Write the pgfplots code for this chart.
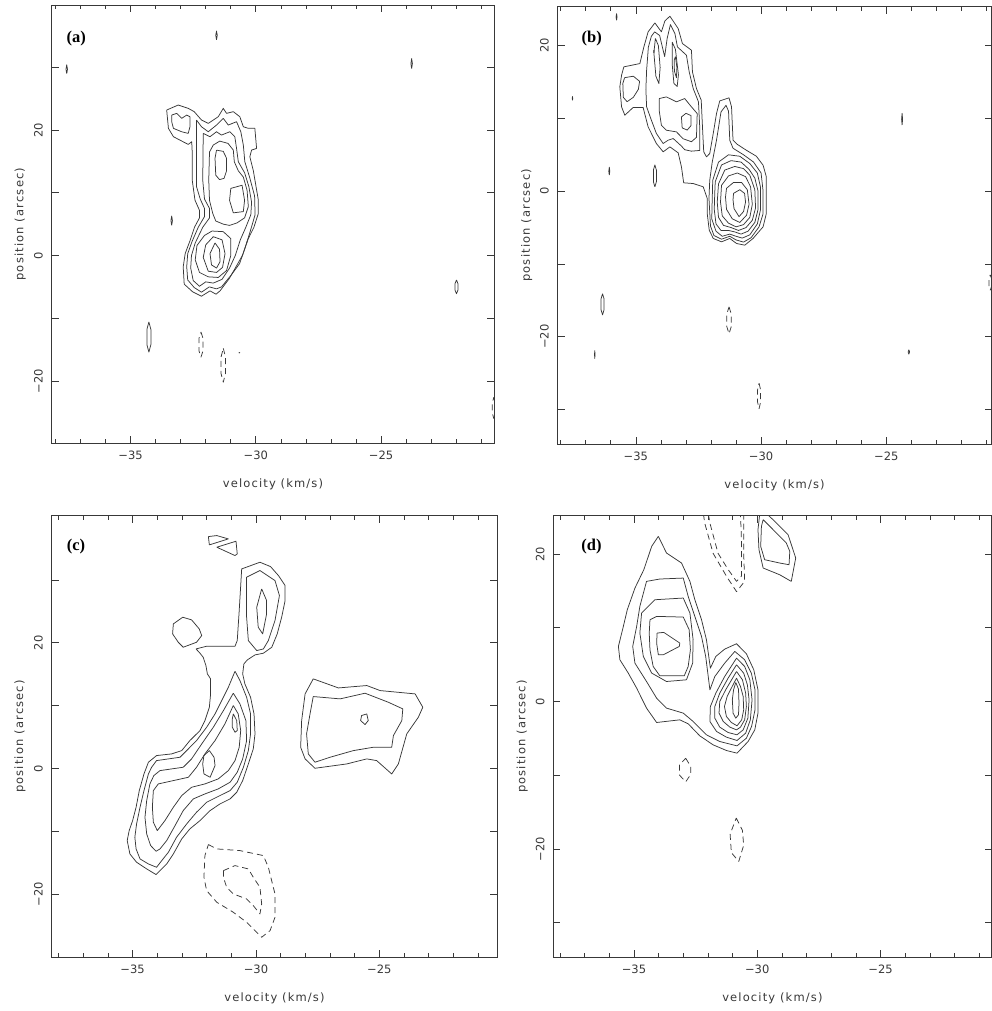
\documentclass[border=0pt]{standalone}
\usepackage{pgfplots}
\pgfplotsset{compat=1.18}
\usepackage{fontspec}
\setmainfont{Liberation Serif}
\newfontfamily\pgsans{DejaVu Sans}
\newfontfamily\pglab[LetterSpace=10]{DejaVu Sans}
\definecolor{ink}{gray}{0.22}
\newcommand\tickf{\pgsans\fontsize{11.5}{13}\selectfont}
\newcommand\labf{\pglab\fontsize{11.5}{13}\selectfont}
\newcommand\panf{\rmfamily\bfseries\fontsize{16.5}{18}\selectfont}
\tikzset{ct/.style={ink, line width=0.75pt, line join=round},
         dct/.style={ct, dash pattern=on 6pt off 4pt}}
\pgfplotsset{
 pgp/.style={
  scale only axis, anchor=south west, clip=true,
  axis line style={ink, line width=0.7pt},
  tick style={ink, line width=0.7pt},
  major tick length=7pt, minor tick length=4pt,
  tick align=inside, tick pos=both,
  xtick={-35,-30,-25}, xticklabels={−35,−30,−25},
  minor xtick={-38,-37,-36,-34,-33,-32,-31,-29,-28,-27,-26,-24,-23,-22,-21},
  xticklabel style={font=\tickf, text=ink, anchor=base, yshift=-16.7pt},
  yticklabel style={font=\tickf, text=ink, xshift=-9pt, rotate=90, anchor=base},
  xlabel={velocity (km/s)}, ylabel={position (arcsec)},
  xlabel style={font=\labf, text=ink, at={(axis description cs:0.5,-0.101)}, anchor=base},
  ylabel style={font=\labf, text=ink, at={(axis description cs:-0.064,0.5)}, anchor=base},
 },
 pgac/.style={ytick={-20,-10,0,10,20,30}, yticklabels={−20,{},0,{},20,{}}},
 pgbd/.style={ytick={-30,-20,-10,0,10,20}, yticklabels={{},−20,{},0,{},20}},
}
\begin{document}
\begin{tikzpicture}
\useasboundingbox (0pt,0pt) rectangle (992pt,1011pt);
% ---------------- (a)
\begin{axis}[pgp, pgac, at={(51.7pt,567.7pt)}, width=442.6pt, height=438.3pt,
  xmin=-38.15, xmax=-20.48, ymin=-29.94, ymax=39.94]
\addplot[ct] coordinates {(-33.56,23.19)(-33.10,23.99)(-32.70,23.46)(-32.46,22.93)(-32.17,21.60)(-31.90,21.06)(-31.50,22.13)(-31.30,23.46)(-31.17,22.66)(-30.90,22.93)(-30.64,22.13)(-30.50,20.53)(-30.30,20.27)(-30.04,20.27)(-29.97,17.07)(-30.17,16.81)(-30.24,15.74)(-30.10,13.51)(-29.90,8.83)(-29.90,6.70)(-30.08,4.47)(-30.30,2.71)(-30.53,0.05)(-30.83,-2.07)(-31.06,-3.67)(-31.43,-5.64)(-31.59,-6.17)(-31.83,-5.64)(-32.17,-6.49)(-32.52,-5.80)(-32.86,-4.57)(-32.90,-1.81)(-32.82,0.32)(-32.63,2.34)(-32.45,4.50)(-32.25,6.00)(-32.25,7.20)(-32.43,8.83)(-32.54,12.02)(-32.54,16.50)(-32.56,18.14)(-32.70,17.71)(-33.29,18.94)(-33.49,20.27)(-33.56,23.19)};
\addplot[ct] coordinates {(-33.36,22.39)(-33.16,22.66)(-32.96,21.86)(-32.76,22.39)(-32.63,22.13)(-32.63,20.53)(-32.70,19.47)(-32.96,19.73)(-33.29,20.27)(-33.36,21.33)(-33.36,22.39)};
\addplot[ct] coordinates {(-32.37,21.60)(-32.17,20.53)(-31.90,19.73)(-31.57,20.80)(-31.30,21.86)(-31.10,20.80)(-30.77,21.33)(-30.60,19.73)(-30.50,17.61)(-30.44,14.95)(-30.25,12.50)(-30.05,9.50)(-30.03,6.50)(-30.25,3.50)(-30.45,1.00)(-30.65,-1.30)(-31.00,-3.20)(-31.37,-5.00)(-31.57,-5.32)(-31.86,-5.00)(-32.17,-5.85)(-32.46,-5.11)(-32.72,-3.90)(-32.76,-1.80)(-32.72,0.30)(-32.55,2.20)(-32.30,4.50)(-32.05,6.20)(-32.05,7.50)(-32.22,9.00)(-32.37,11.00)(-32.37,15.20)(-32.37,21.60)};
\addplot[ct] coordinates {(-32.10,19.47)(-31.83,18.94)(-31.57,19.73)(-31.37,19.20)(-31.04,19.73)(-30.84,18.94)(-30.77,17.07)(-30.70,14.95)(-30.45,13.20)(-30.28,11.00)(-30.17,8.50)(-30.20,6.50)(-30.40,4.50)(-30.62,2.50)(-30.82,0.00)(-31.05,-2.00)(-31.35,-3.80)(-31.70,-4.40)(-32.00,-4.20)(-32.25,-4.90)(-32.50,-4.00)(-32.60,-2.00)(-32.57,0.00)(-32.42,2.00)(-32.12,4.50)(-31.85,6.00)(-31.85,7.50)(-32.05,9.00)(-32.12,12.00)(-32.10,19.47)};
\addplot[ct] coordinates {(-31.85,16.50)(-31.70,17.61)(-31.44,18.24)(-31.11,17.87)(-30.90,16.81)(-30.86,14.95)(-30.70,13.50)(-30.50,12.50)(-30.35,10.40)(-30.30,7.80)(-30.45,6.00)(-30.75,5.20)(-31.05,4.80)(-31.30,5.00)(-31.60,5.50)(-31.72,6.70)(-31.85,8.80)(-31.88,12.00)(-31.85,16.50)};
\addplot[ct] coordinates {(-31.57,16.80)(-31.30,16.60)(-31.17,15.50)(-31.17,13.50)(-31.27,12.30)(-31.45,12.10)(-31.60,12.80)(-31.63,15.50)(-31.57,16.80)};
\addplot[ct] coordinates {(-31.00,10.70)(-30.55,11.20)(-30.45,8.80)(-30.50,7.00)(-30.90,6.80)(-31.05,8.80)(-31.00,10.70)};
\addplot[ct] coordinates {(-32.05,3.20)(-31.75,3.90)(-31.30,3.80)(-31.00,2.70)(-31.00,0.00)(-31.17,-2.40)(-31.50,-3.50)(-31.90,-3.40)(-32.25,-2.70)(-32.42,-0.70)(-32.35,1.60)(-32.05,3.20)};
\addplot[ct] coordinates {(-31.70,3.00)(-31.35,2.50)(-31.23,0.30)(-31.33,-1.90)(-31.57,-2.70)(-31.90,-2.50)(-32.10,-0.30)(-32.00,1.70)(-31.70,3.00)};
\addplot[ct] coordinates {(-31.63,2.00)(-31.45,1.00)(-31.43,-1.00)(-31.57,-2.00)(-31.77,-1.50)(-31.83,0.30)(-31.63,2.00)};
\addplot[ct] coordinates {(-31.57,34.4)(-31.54,35.1)(-31.57,35.8)(-31.60,35.1)(-31.57,34.4)};
\addplot[ct] coordinates {(-37.55,29.0)(-37.52,29.7)(-37.55,30.4)(-37.58,29.7)(-37.55,29.0)};
\addplot[ct] coordinates {(-23.78,29.8)(-23.75,30.6)(-23.78,31.4)(-23.81,30.6)(-23.78,29.8)};
\addplot[ct] coordinates {(-33.36,4.8)(-33.33,5.55)(-33.36,6.3)(-33.39,5.55)(-33.36,4.8)};
\addplot[ct] coordinates {(-34.27,-10.6)(-34.19,-11.8)(-34.19,-14.2)(-34.27,-15.4)(-34.35,-14.2)(-34.35,-11.8)(-34.27,-10.6)};
\addplot[ct] coordinates {(-21.99,-3.9)(-21.93,-4.5)(-21.93,-5.5)(-21.99,-6.1)(-22.05,-5.5)(-22.05,-4.5)(-21.99,-3.9)};
\addplot[ct] coordinates {(-30.68,-15.45)(-30.64,-15.5)(-30.68,-15.55)};
\addplot[dct] coordinates {(-32.19,-12.2)(-32.11,-13.2)(-32.11,-15.2)(-32.19,-16.2)(-32.27,-15.2)(-32.27,-13.2)(-32.19,-12.2)};
\addplot[dct] coordinates {(-31.30,-14.8)(-31.21,-16.2)(-31.21,-18.8)(-31.30,-20.2)(-31.39,-18.8)(-31.39,-16.2)(-31.30,-14.8)};
\addplot[dct] coordinates {(-20.50,-22.6)(-20.44,-23.5)(-20.44,-25.1)(-20.50,-26.0)(-20.56,-25.1)(-20.56,-23.5)(-20.50,-22.6)};
\node[anchor=base west, font=\panf] at (axis description cs:0.026,0.914) {(a)};
\end{axis}
% ---------------- (b)
\begin{axis}[pgp, pgbd, at={(557.7pt,567pt)}, width=433.8pt, height=437.3pt,
  xmin=-38.12, xmax=-20.8, ymin=-34.75, ymax=25.36]
\addplot[ct] coordinates {(-35.48,17.09)(-34.84,17.54)(-34.68,19.83)(-34.51,21.90)(-34.24,23.13)(-33.98,21.90)(-33.84,23.41)(-33.64,24.05)(-33.31,22.35)(-33.14,20.29)(-32.78,19.38)(-32.74,16.40)(-32.58,14.11)(-32.39,12.51)(-32.34,8.84)(-32.29,5.41)(-32.18,4.72)(-32.05,5.18)(-31.91,7.93)(-31.78,10.67)(-31.65,12.41)(-31.28,12.83)(-31.18,11.59)(-31.12,7.01)(-30.96,6.46)(-30.59,5.63)(-30.19,4.81)(-29.92,3.57)(-29.79,1.97)(-29.79,-3.07)(-29.92,-4.90)(-30.32,-6.50)(-30.65,-7.42)(-30.98,-7.19)(-31.25,-6.50)(-31.58,-6.96)(-31.91,-6.50)(-32.07,-5.36)(-32.15,-3.07)(-32.15,-1.00)(-32.31,0.60)(-32.71,1.05)(-33.09,1.15)(-33.18,3.34)(-33.31,5.27)(-33.64,6.09)(-33.91,5.41)(-34.18,6.55)(-34.51,8.84)(-34.71,11.50)(-35.11,11.50)(-35.44,10.44)(-35.57,11.59)(-35.64,14.34)(-35.57,15.94)(-35.48,17.09)};
\addplot[ct] coordinates {(-34.57,16.63)(-34.50,19.80)(-34.38,21.30)(-34.25,21.90)(-34.05,21.40)(-33.92,19.50)(-33.85,18.50)(-33.75,21.00)(-33.62,22.90)(-33.44,21.67)(-33.34,19.83)(-32.98,18.69)(-32.87,16.40)(-32.71,14.11)(-32.50,12.28)(-32.45,8.84)(-32.45,5.60)(-32.78,5.50)(-33.05,5.70)(-33.18,6.20)(-33.51,7.24)(-33.71,7.01)(-33.91,6.55)(-34.18,7.93)(-34.38,9.76)(-34.57,11.59)(-34.60,14.00)(-34.57,16.63)};
\addplot[ct] coordinates {(-35.45,15.6)(-35.10,15.8)(-34.85,15.1)(-34.90,14.0)(-35.10,12.9)(-35.35,12.3)(-35.50,12.9)(-35.52,14.8)(-35.45,15.6)};
\addplot[ct] coordinates {(-34.07,12.73)(-33.78,12.96)(-33.38,12.28)(-33.05,12.73)(-32.78,11.59)(-32.55,10.67)(-32.58,7.40)(-32.78,6.80)(-33.11,7.20)(-33.38,8.15)(-33.78,8.38)(-33.98,9.07)(-34.07,11.13)(-34.07,12.73)};
\addplot[ct] coordinates {(-33.18,10.2)(-33.00,10.7)(-32.80,10.4)(-32.80,9.0)(-32.95,8.4)(-33.15,8.7)(-33.18,10.2)};
\addplot[ct] coordinates {(-34.22,21.0)(-34.10,20.0)(-34.03,17.0)(-34.08,14.8)(-34.20,15.8)(-34.28,19.0)(-34.22,21.0)};
\addplot[ct] coordinates {(-33.55,20.5)(-33.42,19.5)(-33.30,16.0)(-33.35,14.4)(-33.48,14.8)(-33.55,17.5)(-33.55,20.5)};
\addplot[ct] coordinates {(-33.42,18.5)(-33.36,17.0)(-33.38,15.6)(-33.46,16.5)(-33.47,18.0)(-33.42,18.5)};
\addplot[ct] coordinates {(-32.08,-1.0)(-32.05,1.5)(-31.95,4.0)(-31.78,7.0)(-31.60,10.9)(-31.40,11.8)(-31.30,11.0)(-31.25,7.0)(-31.12,5.9)(-30.70,5.0)(-30.30,4.0)(-30.00,2.5)(-29.92,0.0)(-29.92,-3.1)(-30.08,-4.9)(-30.40,-6.4)(-30.70,-7.0)(-31.00,-6.7)(-31.25,-6.2)(-31.58,-6.6)(-31.88,-6.1)(-32.02,-4.8)(-32.08,-1.0)};
\addplot[ct] coordinates {(-31.93,1.5)(-31.70,4.0)(-31.30,5.0)(-30.85,4.8)(-30.45,3.8)(-30.15,2.5)(-30.02,0.5)(-30.02,-2.5)(-30.15,-4.5)(-30.45,-6.0)(-30.75,-6.45)(-31.00,-6.2)(-31.25,-5.9)(-31.55,-6.2)(-31.80,-5.5)(-31.97,-3.8)(-31.95,-1.0)(-31.93,1.5)};
\addplot[ct] coordinates {(-31.83,1.3)(-31.58,3.6)(-31.20,4.2)(-30.80,4.0)(-30.48,3.0)(-30.25,1.8)(-30.12,0.0)(-30.12,-2.5)(-30.25,-4.3)(-30.52,-5.5)(-30.80,-5.9)(-31.05,-5.6)(-31.30,-5.4)(-31.60,-5.4)(-31.80,-4.5)(-31.87,-2.5)(-31.85,-0.3)(-31.83,1.3)};
\addplot[ct] coordinates {(-31.70,1.0)(-31.45,2.9)(-31.05,3.4)(-30.70,3.1)(-30.45,2.2)(-30.25,0.2)(-30.22,-2.3)(-30.35,-4.0)(-30.60,-5.0)(-30.90,-5.4)(-31.20,-5.0)(-31.50,-4.7)(-31.70,-3.6)(-31.75,-1.5)(-31.70,1.0)};
\addplot[ct] coordinates {(-31.58,0.8)(-31.30,2.1)(-30.95,2.5)(-30.62,2.0)(-30.42,0.6)(-30.35,-1.8)(-30.45,-3.6)(-30.70,-4.6)(-31.00,-4.9)(-31.30,-4.4)(-31.55,-3.4)(-31.62,-1.5)(-31.58,0.8)};
\addplot[ct] coordinates {(-31.38,0.4)(-31.10,1.2)(-30.78,1.2)(-30.55,0.2)(-30.48,-1.8)(-30.58,-3.3)(-30.85,-4.3)(-31.15,-3.8)(-31.38,-2.5)(-31.42,-0.8)(-31.38,0.4)};
\addplot[ct] coordinates {(-31.10,-0.3)(-30.85,0.2)(-30.66,-0.3)(-30.62,-1.5)(-30.70,-2.8)(-30.88,-3.5)(-31.08,-2.4)(-31.12,-1.2)(-31.10,-0.3)};
\addplot[ct] coordinates {(-35.77,23.5)(-35.75,23.95)(-35.77,24.4)(-35.79,23.95)(-35.77,23.5)};
\addplot[ct] coordinates {(-37.53,12.5)(-37.52,12.75)(-37.53,13.0)(-37.54,12.75)(-37.53,12.5)};
\addplot[ct] coordinates {(-36.06,2.2)(-36.04,2.75)(-36.06,3.3)(-36.08,2.75)(-36.06,2.2)};
\addplot[ct] coordinates {(-34.24,0.6)(-34.18,1.3)(-34.18,2.9)(-34.24,3.6)(-34.30,2.9)(-34.30,1.3)(-34.24,0.6)};
\addplot[ct] coordinates {(-36.33,-14.1)(-36.27,-14.8)(-36.27,-16.3)(-36.33,-17.0)(-36.39,-16.3)(-36.39,-14.8)(-36.33,-14.1)};
\addplot[ct] coordinates {(-36.64,-21.9)(-36.63,-22.45)(-36.64,-23.0)(-36.65,-22.45)(-36.64,-21.9)};
\addplot[ct] coordinates {(-34.28,19.0)(-34.27,19.2)(-34.28,19.4)(-34.29,19.2)(-34.28,19.0)};
\addplot[ct] coordinates {(-24.37,9.1)(-24.35,9.9)(-24.37,10.7)(-24.39,9.9)(-24.37,9.1)};
\addplot[ct] coordinates {(-24.10,-21.8)(-24.07,-22.1)(-24.10,-22.4)(-24.13,-22.1)(-24.10,-21.8)};
\addplot[dct] coordinates {(-31.28,-15.9)(-31.19,-16.9)(-31.19,-18.6)(-31.28,-19.6)(-31.37,-18.6)(-31.37,-16.9)(-31.28,-15.9)};
\addplot[dct] coordinates {(-30.08,-26.4)(-30.02,-27.3)(-30.02,-29.0)(-30.08,-29.9)(-30.14,-29.0)(-30.14,-27.3)(-30.08,-26.4)};
\addplot[dct] coordinates {(-20.85,-11.5)(-20.80,-12.0)(-20.80,-13.1)(-20.85,-13.6)(-20.90,-13.1)(-20.90,-12.0)(-20.85,-11.5)};
\node[anchor=base west, font=\panf] at (axis description cs:0.047,0.918) {(b)};
\end{axis}
% ---------------- (c)
\begin{axis}[pgp, pgac, at={(51.7pt,53.7pt)}, width=445.6pt, height=441.6pt,
  xmin=-38.28, xmax=-20.22, ymin=-30.0, ymax=40.2]
\addplot[ct] coordinates {(-32.43,19.02)(-32.00,19.45)(-30.85,19.45)(-30.76,20.35)(-30.68,25.12)(-30.58,31.74)(-29.84,32.80)(-29.41,32.11)(-29.09,30.68)(-28.82,29.09)(-28.82,26.71)(-28.96,24.06)(-29.14,21.41)(-29.36,19.29)(-29.70,18.34)(-30.04,18.07)(-30.35,17.28)(-30.49,16.64)(-30.54,15.05)(-30.45,13.46)(-30.22,11.34)(-30.08,8.69)(-30.04,5.51)(-30.11,3.13)(-30.31,0.74)(-30.54,-1.91)(-30.78,-3.76)(-31.05,-4.82)(-31.46,-5.62)(-31.86,-6.68)(-32.27,-8.27)(-32.68,-9.59)(-33.01,-11.18)(-33.35,-13.57)(-33.62,-15.16)(-34.05,-16.85)(-34.43,-15.95)(-34.84,-14.89)(-35.11,-13.57)(-35.22,-11.45)(-35.14,-9.86)(-35.00,-8.27)(-34.86,-6.15)(-34.73,-3.50)(-34.54,-0.85)(-34.36,1.01)(-34.03,2.07)(-33.42,2.33)(-33.01,2.86)(-32.68,4.45)(-32.27,6.04)(-32.07,7.63)(-31.89,9.75)(-31.84,11.87)(-31.84,14.26)(-31.97,15.05)(-32.03,16.38)(-32.14,17.70)(-32.27,18.34)(-32.43,19.02)};
\addplot[ct] coordinates {(-30.85,15.47)(-30.65,13.99)(-30.38,11.34)(-30.22,8.69)(-30.22,5.51)(-30.31,2.86)(-30.51,0.21)(-30.76,-2.17)(-31.05,-3.50)(-31.46,-4.29)(-32.00,-5.35)(-32.41,-6.94)(-32.81,-8.80)(-33.22,-10.92)(-33.55,-13.30)(-33.82,-14.63)(-34.03,-15.69)(-34.36,-15.16)(-34.70,-14.36)(-34.86,-12.77)(-34.91,-10.92)(-34.84,-8.80)(-34.70,-6.15)(-34.54,-3.50)(-34.36,-0.85)(-34.23,0.21)(-34.03,1.27)(-33.08,1.80)(-32.81,2.86)(-32.41,4.45)(-32.00,6.57)(-31.66,8.69)(-31.39,10.81)(-31.12,12.93)(-30.85,15.47)};
\addplot[ct] coordinates {(-30.92,11.98)(-30.65,10.28)(-30.41,7.63)(-30.38,4.45)(-30.54,1.54)(-30.76,-0.58)(-31.05,-2.17)(-31.53,-3.23)(-32.07,-4.03)(-32.54,-4.82)(-32.95,-6.68)(-33.28,-9.06)(-33.62,-11.45)(-33.89,-12.77)(-34.05,-13.14)(-34.27,-12.24)(-34.43,-10.39)(-34.50,-7.74)(-34.43,-5.09)(-34.30,-2.44)(-34.14,-1.11)(-33.89,-0.32)(-32.95,0.21)(-32.61,1.54)(-32.20,3.92)(-31.73,6.57)(-31.32,9.22)(-30.92,11.98)};
\addplot[ct] coordinates {(-30.92,10.02)(-30.72,8.69)(-30.62,6.04)(-30.68,3.39)(-30.85,1.27)(-31.12,-0.32)(-31.53,-1.64)(-32.07,-2.44)(-32.61,-2.97)(-33.01,-4.29)(-33.35,-6.15)(-33.69,-8.27)(-34.00,-9.86)(-34.16,-8.53)(-34.20,-6.15)(-34.16,-3.50)(-33.96,-2.44)(-33.35,-1.91)(-32.74,-1.38)(-32.41,0.21)(-32.07,2.33)(-31.66,4.45)(-31.26,7.10)(-30.92,10.02)};
\addplot[ct] coordinates {(-30.92,8.69)(-30.78,7.63)(-30.76,6.04)(-30.85,5.78)(-30.96,6.57)(-30.96,7.90)(-30.92,8.69)};
\addplot[ct] coordinates {(-31.89,2.86)(-31.70,1.80)(-31.66,0.48)(-31.86,-1.38)(-32.11,-0.85)(-32.16,0.74)(-32.11,2.07)(-31.89,2.86)};
\addplot[ct] coordinates {(-30.38,30.42)(-29.84,31.48)(-29.23,29.89)(-29.05,27.50)(-29.23,23.53)(-29.50,20.35)(-29.70,19.02)(-29.97,18.76)(-30.31,20.35)(-30.38,24.06)(-30.38,28.83)(-30.38,30.42)};
\addplot[ct] coordinates {(-29.77,28.56)(-29.57,26.71)(-29.57,24.59)(-29.73,21.41)(-29.91,22.47)(-29.97,25.65)(-29.77,28.56)};
\addplot[ct] coordinates {(-33.35,23.00)(-32.97,24.06)(-32.61,23.64)(-32.30,22.20)(-32.20,21.14)(-32.41,20.08)(-32.95,19.29)(-33.15,20.08)(-33.38,21.41)(-33.35,23.00)};
\addplot[ct] coordinates {(-31.93,36.88)(-31.59,37.04)(-31.12,36.51)(-31.89,35.56)(-31.93,36.88)};
\addplot[ct] coordinates {(-31.59,35.19)(-30.81,36.14)(-30.76,34.13)(-30.85,33.86)(-31.59,35.19)};
\addplot[ct] coordinates {(-27.68,14.26)(-26.66,12.82)(-25.51,13.20)(-24.97,12.40)(-23.55,11.87)(-23.24,9.75)(-23.42,8.16)(-23.89,5.51)(-24.23,0.74)(-24.50,-0.85)(-25.11,1.27)(-25.51,1.54)(-26.32,0.74)(-27.61,0.05)(-28.01,1.54)(-28.19,3.39)(-28.15,7.63)(-28.01,11.87)(-27.68,14.26)};
\addplot[ct] coordinates {(-27.68,11.45)(-26.59,11.08)(-25.58,11.98)(-24.64,10.55)(-24.05,9.49)(-24.09,7.63)(-24.43,5.25)(-24.50,3.39)(-25.24,3.39)(-26.05,2.86)(-27.00,1.80)(-27.61,1.01)(-27.88,2.33)(-27.95,5.51)(-27.81,8.69)(-27.68,11.45)};
\addplot[ct] coordinates {(-25.72,8.43)(-25.51,8.69)(-25.45,7.63)(-25.58,7.00)(-25.76,7.63)(-25.72,8.43)};
\addplot[dct] coordinates {(-31.93,-12.08)(-31.59,-12.77)(-30.65,-13.04)(-29.70,-13.83)(-29.50,-15.69)(-29.23,-19.93)(-29.23,-23.64)(-29.43,-25.76)(-29.77,-26.81)(-30.04,-25.76)(-30.38,-24.43)(-30.92,-22.84)(-31.59,-21.25)(-32.00,-19.40)(-32.11,-17.28)(-32.07,-13.83)(-31.93,-12.08)};
\addplot[dct] coordinates {(-31.32,-16.22)(-30.85,-15.42)(-30.31,-15.95)(-30.11,-17.28)(-29.84,-18.87)(-29.77,-21.52)(-29.84,-23.11)(-30.11,-21.78)(-30.38,-20.72)(-30.92,-19.93)(-31.19,-18.87)(-31.32,-17.28)(-31.32,-16.22)};
\node[anchor=base west, font=\panf] at (axis description cs:0.026,0.922) {(c)};
\end{axis}
% ---------------- (d)
\begin{axis}[pgp, pgbd, at={(553.3pt,53.7pt)}, width=438.2pt, height=441.6pt,
  xmin=-38.27, xmax=-20.5, ymin=-34.7, ymax=25.2]
\addplot[ct] coordinates {(-34.01,22.40)(-33.68,20.14)(-33.07,18.78)(-32.73,16.29)(-32.53,13.80)(-32.26,11.09)(-32.06,8.37)(-31.90,4.52)(-31.68,6.11)(-31.32,7.10)(-30.84,7.83)(-30.44,6.47)(-30.14,4.30)(-29.97,1.58)(-29.97,-1.58)(-30.10,-3.85)(-30.37,-5.43)(-30.82,-7.01)(-31.25,-6.65)(-31.79,-5.88)(-32.33,-4.66)(-32.80,-3.03)(-33.14,-2.49)(-34.08,-2.85)(-34.49,-0.90)(-34.89,1.81)(-35.23,3.85)(-35.57,5.66)(-35.63,7.47)(-35.43,10.18)(-35.27,12.44)(-34.96,15.38)(-34.60,17.87)(-34.28,21.04)(-34.01,22.40)};
\addplot[ct] coordinates {(-30.51,5.66)(-30.24,3.85)(-30.09,1.58)(-30.09,-1.13)(-30.23,-3.39)(-30.44,-4.98)(-30.82,-6.02)(-31.52,-5.43)(-32.06,-4.52)(-32.60,-2.71)(-33.00,-1.58)(-33.68,-0.90)(-34.08,0.45)(-34.49,2.71)(-34.96,5.20)(-35.05,7.47)(-34.89,10.18)(-34.76,12.90)(-34.49,16.29)(-33.95,16.61)(-33.00,16.74)(-32.80,14.25)(-32.53,11.54)(-32.26,8.82)(-32.09,6.11)(-31.92,1.58)(-31.72,3.39)(-31.32,5.20)(-30.91,6.79)(-30.51,5.66)};
\addplot[ct] coordinates {(-34.69,11.99)(-34.15,13.80)(-33.00,14.03)(-32.73,11.99)(-32.60,8.37)(-32.62,5.20)(-32.87,2.94)(-33.68,2.71)(-34.28,3.85)(-34.62,6.11)(-34.76,9.28)(-34.69,11.99)};
\addplot[ct] coordinates {(-34.35,11.09)(-34.08,11.54)(-33.00,11.45)(-32.76,9.73)(-32.71,7.01)(-32.80,4.75)(-32.96,3.48)(-33.95,3.48)(-34.22,4.75)(-34.35,7.01)(-34.38,9.28)(-34.35,11.09)};
\addplot[ct] coordinates {(-34.06,9.28)(-33.79,9.37)(-33.14,7.92)(-33.16,7.47)(-33.81,6.33)(-34.01,6.33)(-34.08,7.92)(-34.06,9.28)};
\addplot[ct] coordinates {(-30.84,5.88)(-30.51,4.75)(-30.30,2.94)(-30.21,0.23)(-30.28,-2.49)(-30.47,-4.30)(-30.82,-5.29)(-31.25,-4.84)(-31.65,-4.07)(-31.92,-2.71)(-31.90,-0.68)(-31.68,1.13)(-31.32,3.39)(-30.84,5.88)};
\addplot[ct] coordinates {(-30.84,4.98)(-30.55,3.85)(-30.40,2.26)(-30.33,0.23)(-30.38,-2.26)(-30.57,-3.85)(-30.82,-4.52)(-31.18,-4.21)(-31.52,-3.48)(-31.72,-2.26)(-31.72,-0.68)(-31.52,1.13)(-31.18,3.17)(-30.84,4.98)};
\addplot[ct] coordinates {(-30.84,4.07)(-30.60,2.94)(-30.47,1.13)(-30.44,-0.68)(-30.51,-2.49)(-30.68,-3.48)(-30.84,-3.85)(-31.11,-3.48)(-31.38,-2.71)(-31.55,-1.58)(-31.52,0.00)(-31.28,1.58)(-30.84,4.07)};
\addplot[ct] coordinates {(-30.84,3.17)(-30.68,2.04)(-30.57,0.68)(-30.55,-1.13)(-30.63,-2.49)(-30.82,-3.30)(-31.05,-2.85)(-31.25,-2.04)(-31.33,-0.68)(-31.22,0.68)(-31.05,1.81)(-30.84,3.17)};
\addplot[ct] coordinates {(-30.87,2.58)(-30.76,1.67)(-30.74,-0.23)(-30.76,-1.81)(-30.87,-2.26)(-30.98,-1.58)(-31.01,0.23)(-30.96,1.58)(-30.87,2.58)};
\addplot[ct] coordinates {(-29.90,25.4)(-29.97,23.30)(-29.93,20.59)(-29.76,18.10)(-29.09,17.19)(-28.62,16.29)(-28.44,19.46)(-28.55,20.59)(-28.75,22.62)(-29.36,24.66)(-29.60,25.4)};
\addplot[ct] coordinates {(-29.76,24.66)(-29.22,22.85)(-28.82,21.49)(-28.68,20.36)(-28.71,18.55)(-29.09,18.78)(-29.70,19.23)(-29.86,21.04)(-29.83,23.76)(-29.76,24.66)};
\addplot[dct] coordinates {(-32.18,25.4)(-32.13,24.2)(-31.79,20.1)(-31.25,17.0)(-30.84,14.9)(-30.51,16.3)(-30.55,20.1)(-30.55,25.4)};
\addplot[dct] coordinates {(-31.98,25.4)(-31.92,24.2)(-31.59,20.1)(-31.18,17.9)(-30.84,16.3)(-30.64,17.0)(-30.64,22.0)(-30.68,25.4)};
\addplot[dct] coordinates {(-32.90,-7.7)(-32.70,-8.8)(-32.70,-9.9)(-32.90,-10.9)(-33.15,-10.0)(-33.15,-8.6)(-32.90,-7.7)};
\addplot[dct] coordinates {(-30.85,-15.8)(-30.60,-17.5)(-30.55,-19.5)(-30.75,-21.7)(-31.05,-20.5)(-31.10,-18.0)(-30.85,-15.8)};
\node[anchor=base west, font=\panf] at (axis description cs:0.056,0.922) {(d)};
\end{axis}
\end{tikzpicture}
\end{document}
